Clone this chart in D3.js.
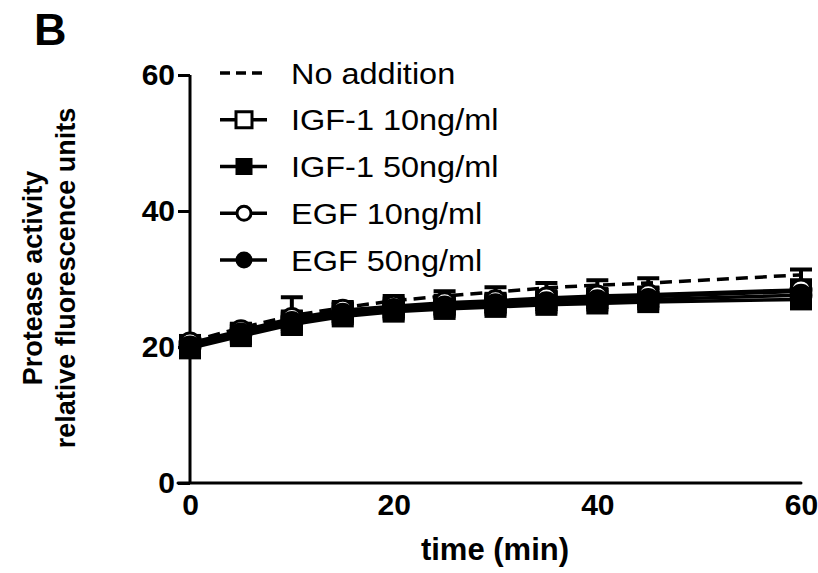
<!DOCTYPE html>
<html>
<head>
<meta charset="utf-8">
<script src="https://cdn.jsdelivr.net/npm/d3@7"></script>
<style>
  body { margin: 0; background: #fff; }
  svg { display: block; }
</style>
</head>
<body>
<svg id="chart" width="818" height="573"></svg>
<script>
// time points (min)
const times = [0, 5, 10, 15, 20, 25, 30, 35, 40, 45, 60];

// mean values
const noAddition = [20.8, 22.8, 24.6, 25.8, 26.8, 27.5, 28.1, 28.7, 29.1, 29.4, 30.6];
const igf10 = [20.3, 22.1, 23.9, 25.1, 25.8, 26.2, 26.5, 26.9, 27.2, 27.4, 28.2];
const igf50 = [19.8, 21.6, 23.3, 24.5, 25.2, 25.6, 25.9, 26.2, 26.4, 26.6, 27.0];
const egf10 = [20.6, 22.4, 24.2, 25.4, 26.0, 26.5, 26.8, 27.2, 27.5, 27.7, 28.4];
const egf50 = [20.0, 21.9, 23.6, 24.8, 25.5, 25.9, 26.2, 26.5, 26.8, 27.0, 27.6];

// error bars (SEM)
const noAdditionErr = [0.6, 0.6, 2.7, 0.8, 0.7, 0.7, 0.7, 0.7, 0.7, 0.7, 0.8];
const igf10Err = [1.1, 1.0, 1.0, 1.0, 1.0, 1.0, 1.0, 1.0, 0.9, 0.9, 1.0];
const igf50Err = [1.1, 1.0, 1.0, 1.0, 1.0, 1.0, 1.0, 1.0, 0.9, 0.9, 1.0];
const egf10Err = [0.9, 0.9, 0.9, 0.9, 0.9, 0.9, 0.9, 0.9, 0.9, 0.9, 0.9];
const egf50Err = [0.9, 0.9, 0.9, 0.9, 0.9, 0.9, 0.9, 0.9, 0.9, 0.9, 0.9];

const seriesNames = ["No addition", "IGF-1 10ng/ml", "IGF-1 50ng/ml", "EGF 10ng/ml", "EGF 50ng/ml"];
const xTicks = [0, 20, 40, 60];
const yTicks = [0, 20, 40, 60];

const series = [
  { name: seriesNames[0], values: noAddition, err: noAdditionErr, marker: "none", dashed: true },
  { name: seriesNames[1], values: igf10, err: igf10Err, marker: "square", filled: false },
  { name: seriesNames[2], values: igf50, err: igf50Err, marker: "square", filled: true },
  { name: seriesNames[3], values: egf10, err: egf10Err, marker: "circle", filled: false },
  { name: seriesNames[4], values: egf50, err: egf50Err, marker: "circle", filled: true }
];

const svg = d3.select("#chart");

const x = d3.scaleLinear().domain([0, 60]).range([190, 801]);
const y = d3.scaleLinear().domain([0, 60]).range([483, 75]);

const tickFont = "'Liberation Sans Narrow', 'Liberation Sans', Arial, sans-serif";
const mainFont = "'Liberation Sans', Arial, sans-serif";

// panel letter
svg.append("text")
  .attr("x", 34)
  .attr("y", 45)
  .style("font-family", mainFont)
  .style("font-weight", "bold")
  .style("font-size", "45px")
  .text("B");

// y axis
const yAxis = svg.append("g")
  .attr("transform", `translate(${x(0)},0)`)
  .call(d3.axisLeft(y).tickValues(yTicks).tickSize(12).tickPadding(3));
yAxis.select(".domain").attr("stroke-width", 3).attr("d", `M0,${y(60)}V${y(0)}`);
yAxis.selectAll(".tick line").attr("stroke-width", 3);
yAxis.selectAll(".tick text")
  .style("font-family", tickFont)
  .style("font-weight", "bold")
  .style("font-size", "30px")
  .attr("fill", "#000");

// x axis (no visible ticks)
const xAxis = svg.append("g")
  .attr("transform", `translate(0,${y(0)})`)
  .call(d3.axisBottom(x).tickValues(xTicks).tickSize(0).tickPadding(11));
xAxis.select(".domain").attr("stroke-width", 3).attr("stroke-linecap", "round")
  .attr("d", `M${x(0) - 12},0H${x(60)}`);
xAxis.selectAll(".tick text")
  .style("font-family", tickFont)
  .style("font-weight", "bold")
  .style("font-size", "30px")
  .attr("fill", "#000");

// axis titles
svg.append("text")
  .attr("x", 495)
  .attr("y", 560)
  .attr("text-anchor", "middle")
  .style("font-family", mainFont)
  .style("font-weight", "bold")
  .style("font-size", "31px")
  .text("time (min)");

const yTitle = svg.append("g")
  .attr("transform", "translate(0,278) rotate(-90)");
yTitle.append("text")
  .attr("x", 0).attr("y", 42)
  .attr("text-anchor", "middle")
  .style("font-family", mainFont)
  .style("font-weight", "bold")
  .style("font-size", "27px")
  .text("Protease activity");
yTitle.append("text")
  .attr("x", 0).attr("y", 75)
  .attr("text-anchor", "middle")
  .style("font-family", mainFont)
  .style("font-weight", "bold")
  .style("font-size", "27px")
  .text("relative fluorescence units");

// lines
const line = d3.line()
  .x((d, i) => x(times[i]))
  .y(d => y(d));

const plot = svg.append("g");

series.forEach(s => {
  plot.append("path")
    .datum(s.values)
    .attr("fill", "none")
    .attr("stroke", "#000")
    .attr("stroke-width", 3.5)
    .attr("stroke-dasharray", s.dashed ? "12,7" : null)
    .attr("d", line);
});

// error bars
const capW = 11;
series.forEach(s => {
  const g = plot.append("g");
  s.values.forEach((v, i) => {
    const cx = x(times[i]);
    const lo = y(v - s.err[i]);
    const hi = y(v + s.err[i]);
    g.append("path")
      .attr("d", `M${cx},${lo}V${hi}M${cx - capW},${hi}H${cx + capW}M${cx - capW},${lo}H${cx + capW}`)
      .attr("stroke", "#000")
      .attr("stroke-width", 4)
      .attr("fill", "none");
  });
});

function drawMarker(g, type, filled, cx, cy, size) {
  if (type === "square") {
    g.append("rect")
      .attr("x", cx - size / 2)
      .attr("y", cy - size / 2)
      .attr("width", size)
      .attr("height", size)
      .attr("fill", filled ? "#000" : "#fff")
      .attr("stroke", "#000")
      .attr("stroke-width", 3);
  } else if (type === "circle") {
    g.append("circle")
      .attr("cx", cx)
      .attr("cy", cy)
      .attr("r", size / 2)
      .attr("fill", filled ? "#000" : "#fff")
      .attr("stroke", "#000")
      .attr("stroke-width", 3);
  }
}

// markers: open ones first, filled ones on top
const markerOrder = series.filter(s => s.marker !== "none")
  .sort((a, b) => (a.filled ? 1 : 0) - (b.filled ? 1 : 0));
markerOrder.forEach(s => {
  const g = plot.append("g");
  s.values.forEach((v, i) => {
    drawMarker(g, s.marker, s.filled, x(times[i]), y(v), s.marker === "square" ? 19 : 20);
  });
});

// legend
const legend = svg.append("g");
const legendY = d3.scalePoint().domain(seriesNames).range([73, 260]);
series.forEach(s => {
  const ly = legendY(s.name);
  legend.append("line")
    .attr("x1", 220).attr("x2", 267)
    .attr("y1", ly).attr("y2", ly)
    .attr("stroke", "#000")
    .attr("stroke-width", 3.5)
    .attr("stroke-dasharray", s.dashed ? "10,6" : null);
  if (s.marker !== "none") {
    const sz = s.marker === "square" && !s.filled ? 16 : 14;
    drawMarker(legend, s.marker, s.filled, 244, ly, sz);
  }
  legend.append("text")
    .attr("transform", `translate(291,${ly + 10.5}) scale(1.12,1)`)
    .style("font-family", mainFont)
    .style("font-size", "29px")
    .attr("fill", "#000")
    .text(s.name);
});
</script>
</body>
</html>
